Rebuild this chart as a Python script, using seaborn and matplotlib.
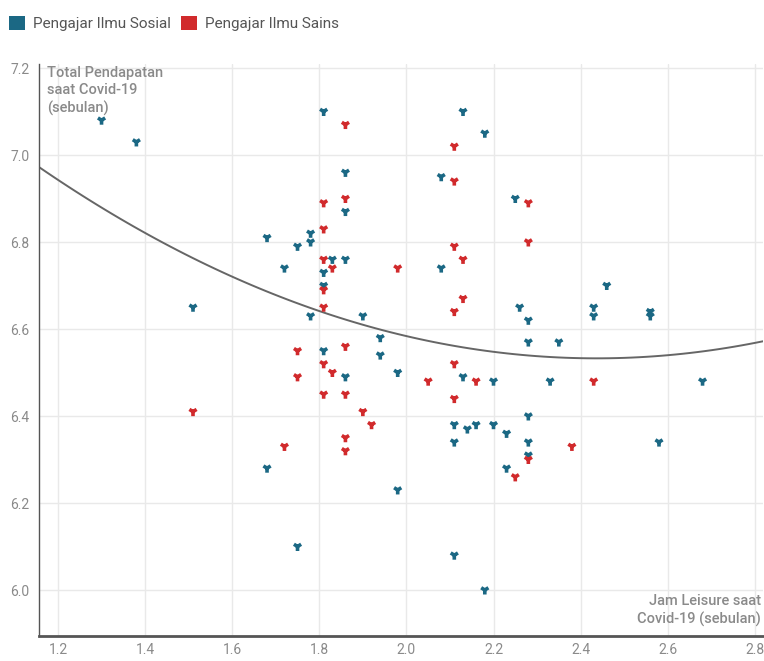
import numpy as np
import pandas as pd
import matplotlib
matplotlib.use("Agg")
import matplotlib.pyplot as plt
from matplotlib.patches import Patch
import seaborn as sns

# ---- data ----
sosial_x = [1.30, 1.38, 1.51, 1.68, 1.72, 1.75, 1.78, 1.78, 1.81, 1.86, 1.86, 1.83, 1.86, 1.81,
            1.81, 1.78, 1.90, 1.94, 1.94, 1.81, 1.86, 1.98, 1.68, 1.98, 1.75, 2.11, 2.18, 2.13,
            2.18, 2.08, 2.25, 2.08, 2.46, 2.26, 2.28, 2.43, 2.43, 2.28, 2.35, 2.13, 2.20, 2.33,
            2.28, 2.11, 2.14, 2.16, 2.20, 2.23, 2.11, 2.28, 2.28, 2.23, 2.56, 2.56, 2.68, 2.58]
sosial_y = [7.08, 7.03, 6.65, 6.81, 6.74, 6.79, 6.82, 6.80, 7.10, 6.96, 6.87, 6.76, 6.76, 6.73,
            6.70, 6.63, 6.63, 6.58, 6.54, 6.55, 6.49, 6.50, 6.28, 6.23, 6.10, 6.08, 6.00, 7.10,
            7.05, 6.95, 6.90, 6.74, 6.70, 6.65, 6.62, 6.65, 6.63, 6.57, 6.57, 6.49, 6.48, 6.48,
            6.40, 6.38, 6.37, 6.38, 6.38, 6.36, 6.34, 6.34, 6.31, 6.28, 6.64, 6.63, 6.48, 6.34]
sains_x = [1.86, 1.86, 1.81, 1.81, 1.81, 1.83, 1.98, 1.81, 1.81, 1.75, 1.86, 1.81, 1.83, 1.75,
           2.05, 1.81, 1.86, 1.90, 1.92, 1.86, 1.86, 1.72, 1.51, 2.11, 2.11, 2.28, 2.28, 2.11,
           2.13, 2.13, 2.11, 2.11, 2.16, 2.43, 2.11, 2.38, 2.28, 2.25]
sains_y = [7.07, 6.90, 6.89, 6.83, 6.76, 6.74, 6.74, 6.69, 6.65, 6.55, 6.56, 6.52, 6.50, 6.49,
           6.48, 6.45, 6.45, 6.41, 6.38, 6.35, 6.32, 6.33, 6.41, 7.02, 6.94, 6.89, 6.80, 6.79,
           6.76, 6.67, 6.64, 6.52, 6.48, 6.48, 6.44, 6.33, 6.30, 6.26]
groups = ["Pengajar Ilmu Sosial", "Pengajar Ilmu Sains"]
x_ticks = [1.2, 1.4, 1.6, 1.8, 2.0, 2.2, 2.4, 2.6, 2.8]
y_ticks = [6.0, 6.2, 6.4, 6.6, 6.8, 7.0, 7.2]
y_title = "Total Pendapatan\nsaat Covid-19\n(sebulan)"
x_title = "Jam Leisure saat\nCovid-19 (sebulan)"

colors = {"Pengajar Ilmu Sosial": "#1b6884", "Pengajar Ilmu Sains": "#d12a2c"}

df = pd.DataFrame({
    "x": sosial_x + sains_x,
    "y": sosial_y + sains_y,
    "grup": [groups[0]] * len(sosial_x) + [groups[1]] * len(sains_x),
})

sns.set_theme(style="white")
plt.rcParams["font.family"] = ["Roboto", "DejaVu Sans"]

fig = plt.figure(figsize=(7.64, 6.61), dpi=100)
W, H = 764, 661
left, right, top, bottom = 39, 763, 64, 636
ax = fig.add_axes([left / W, 1 - bottom / H, (right - left) / W, (bottom - top) / H])

ax.set_xlim(1.1564, 2.8188)
ax.set_ylim(6.0 - (bottom - 590) / 435.0, 7.2092)

sns.scatterplot(data=df, x="x", y="y", hue="grup", palette=colors, marker="1",
                s=42, linewidth=2.6, ax=ax, legend=False, zorder=3)
sns.regplot(data=df, x="x", y="y", order=2, scatter=False, ci=None, truncate=False,
            color="#666666", line_kws={"linewidth": 1.4, "zorder": 2}, ax=ax)

ax.set_xticks(x_ticks)
ax.set_yticks(y_ticks)
ax.set_xticklabels([f"{v:.1f}" for v in x_ticks])
ax.set_yticklabels([f"{v:.1f}" for v in y_ticks])
ax.grid(True, color="#e9e9e9", linewidth=1)
ax.set_axisbelow(True)
ax.tick_params(axis="both", length=0, labelsize=10, colors="#8a8a8a")
ax.tick_params(axis="x", pad=5)
ax.tick_params(axis="y", pad=7)
ax.set_xlabel("")
ax.set_ylabel("")
for s in ["top", "right"]:
    ax.spines[s].set_visible(False)
ax.spines["left"].set_color("#555555")
ax.spines["left"].set_linewidth(1.0)
ax.spines["bottom"].set_color("#555555")
ax.spines["bottom"].set_linewidth(2.0)

ax.text(0.011, 0.997, y_title, transform=ax.transAxes, ha="left", va="top",
        fontsize=10.5, color="#8a8a8a", fontweight="medium", linespacing=1.3)
ax.text(0.997, 0.016, x_title, transform=ax.transAxes, ha="right", va="bottom",
        fontsize=10.5, color="#8a8a8a", fontweight="medium", linespacing=1.3)

handles = [Patch(facecolor=colors[g], edgecolor="none", label=g) for g in groups]
fig.legend(handles=handles, loc="upper left", bbox_to_anchor=(-0.006, 0.997), ncol=2,
           frameon=False, fontsize=11, handlelength=1.05, handleheight=1.05,
           handletextpad=0.5, columnspacing=0.7, labelcolor="#555555")

fig.savefig("out.png", dpi=100)
